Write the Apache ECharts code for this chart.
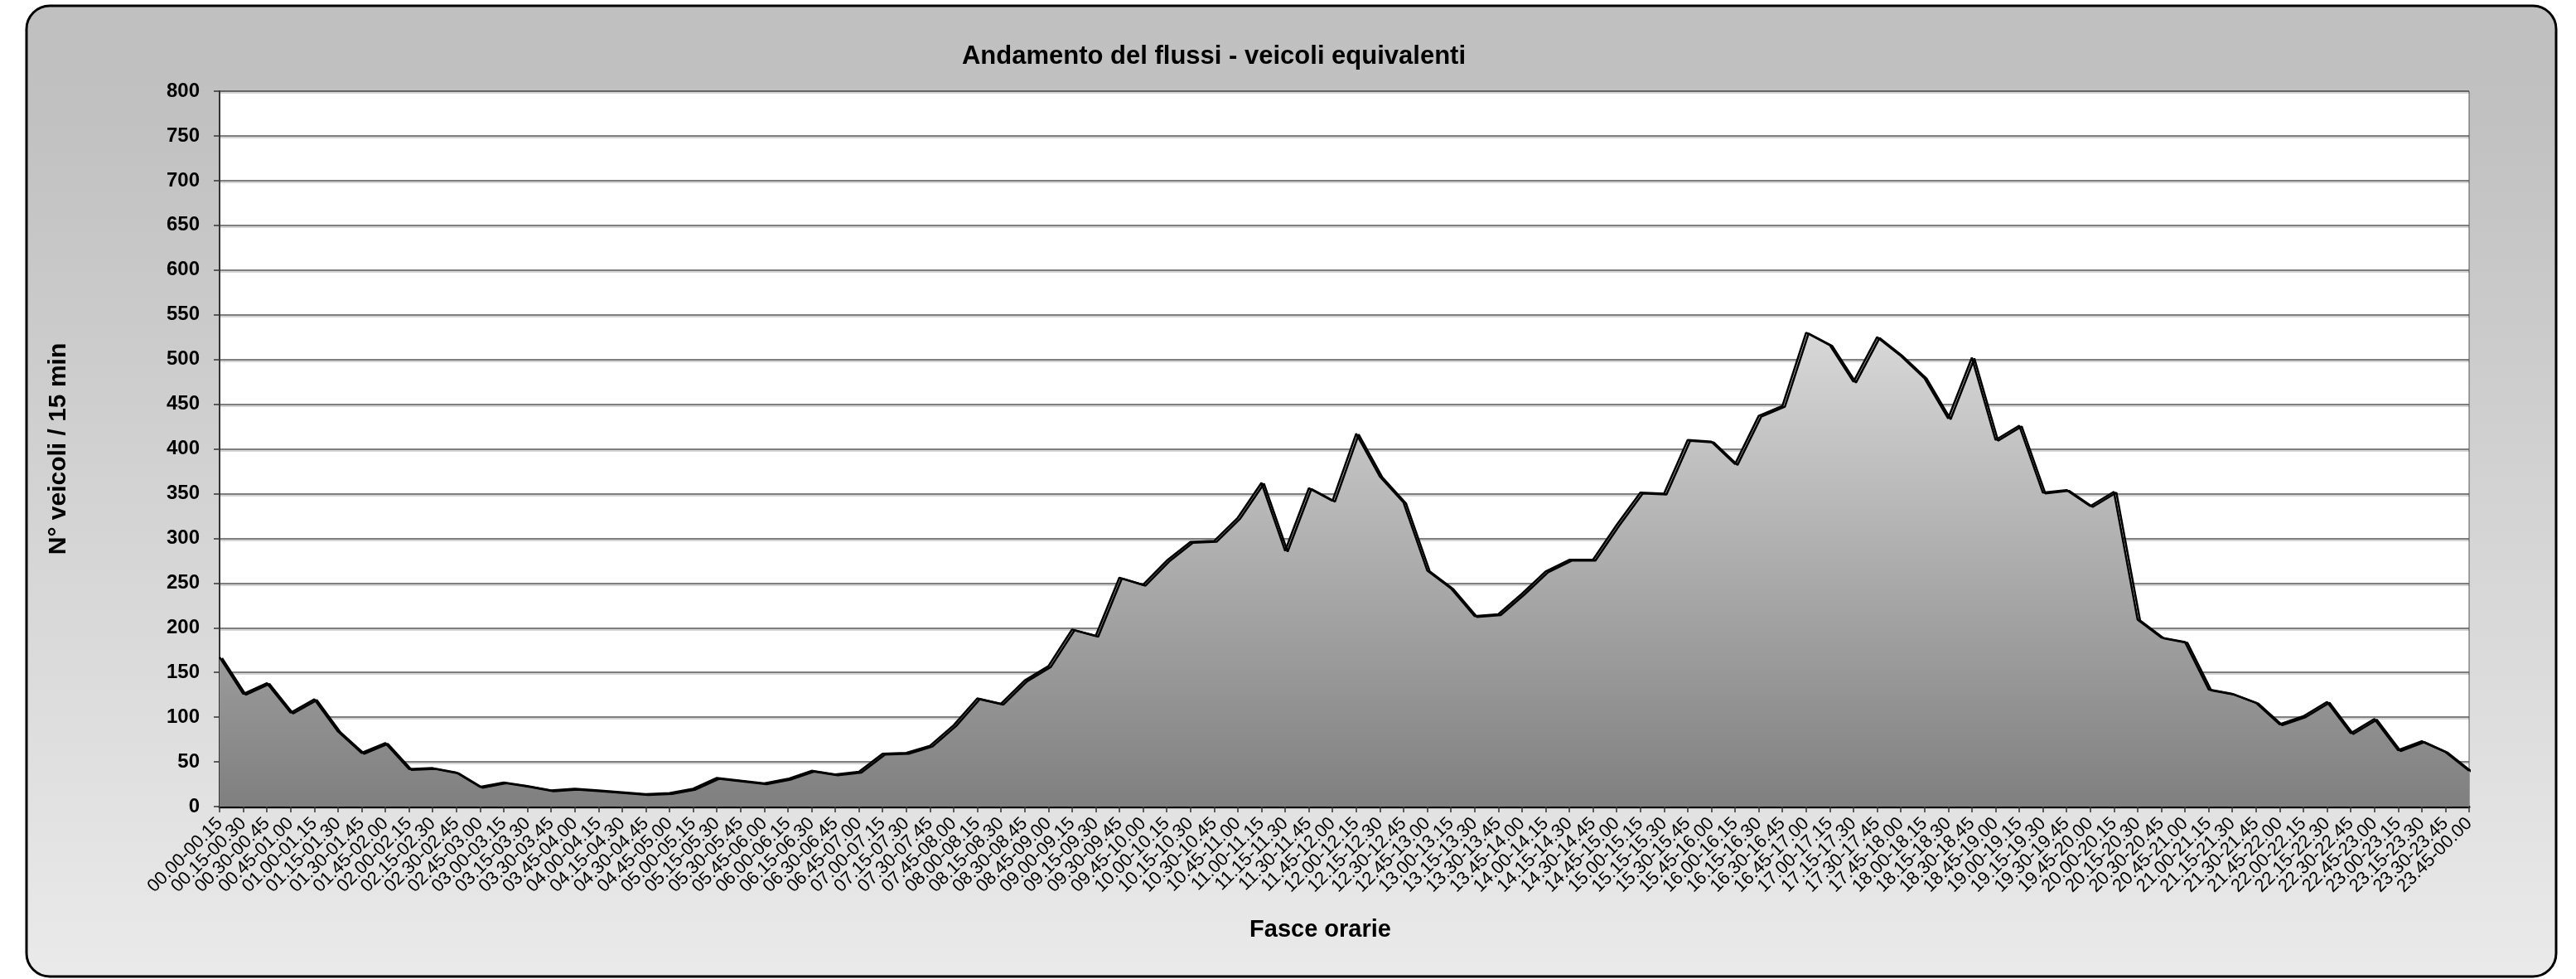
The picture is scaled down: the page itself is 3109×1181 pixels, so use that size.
<!DOCTYPE html>
<html lang="it">
<head>
  <meta charset="UTF-8" />
  <title>Andamento del flussi - veicoli equivalenti</title>
  <script src="https://cdn.jsdelivr.net/npm/echarts@6/dist/echarts.min.js"></script>
  <style>
    html, body {
      margin: 0;
      padding: 0;
      background: #fff;
    }
    #chart {
      width: 3109px;
      height: 1181px;
    }
  </style>
</head>
<body>
  <div id="chart"></div>

  <script>
    // fasce orarie da 15 minuti
    const fasce = [
      '00.00-00.15', '00.15-00.30', '00.30-00.45', '00.45-01.00',
      '01.00-01.15', '01.15-01.30', '01.30-01.45', '01.45-02.00',
      '02.00-02.15', '02.15-02.30', '02.30-02.45', '02.45-03.00',
      '03.00-03.15', '03.15-03.30', '03.30-03.45', '03.45-04.00',
      '04.00-04.15', '04.15-04.30', '04.30-04.45', '04.45-05.00',
      '05.00-05.15', '05.15-05.30', '05.30-05.45', '05.45-06.00',
      '06.00-06.15', '06.15-06.30', '06.30-06.45', '06.45-07.00',
      '07.00-07.15', '07.15-07.30', '07.30-07.45', '07.45-08.00',
      '08.00-08.15', '08.15-08.30', '08.30-08.45', '08.45-09.00',
      '09.00-09.15', '09.15-09.30', '09.30-09.45', '09.45-10.00',
      '10.00-10.15', '10.15-10.30', '10.30-10.45', '10.45-11.00',
      '11.00-11.15', '11.15-11.30', '11.30-11.45', '11.45-12.00',
      '12.00-12.15', '12.15-12.30', '12.30-12.45', '12.45-13.00',
      '13.00-13.15', '13.15-13.30', '13.30-13.45', '13.45-14.00',
      '14.00-14.15', '14.15-14.30', '14.30-14.45', '14.45-15.00',
      '15.00-15.15', '15.15-15.30', '15.30-15.45', '15.45-16.00',
      '16.00-16.15', '16.15-16.30', '16.30-16.45', '16.45-17.00',
      '17.00-17.15', '17.15-17.30', '17.30-17.45', '17.45-18.00',
      '18.00-18.15', '18.15-18.30', '18.30-18.45', '18.45-19.00',
      '19.00-19.15', '19.15-19.30', '19.30-19.45', '19.45-20.00',
      '20.00-20.15', '20.15-20.30', '20.30-20.45', '20.45-21.00',
      '21.00-21.15', '21.15-21.30', '21.30-21.45', '21.45-22.00',
      '22.00-22.15', '22.15-22.30', '22.30-22.45', '22.45-23.00',
      '23.00-23.15', '23.15-23.30', '23.30-23.45', '23.45-00.00'
    ];

    // veicoli equivalenti ogni 15 min
    const veicoli = [
      167, 126, 138, 105, 120, 84, 60, 71,
      42, 43, 38, 22, 27, 23, 18, 20,
      18, 16, 14, 15, 20, 32, 29, 26,
      31, 40, 36, 39, 59, 60, 68, 91,
      121, 115, 141, 157, 198, 191, 256, 248,
      275, 296, 297, 323, 362, 286, 356, 342,
      417, 369, 340, 264, 244, 213, 215, 238,
      263, 276, 276, 315, 351, 350, 410, 408,
      383, 437, 448, 530, 516, 475, 525, 504,
      479, 434, 502, 410, 426, 351, 354, 336,
      352, 209, 189, 184, 131, 126, 116, 92,
      101, 117, 82, 98, 63, 73, 61, 40
    ];

    const yMin = 0;
    const yMax = 800;
    const yStep = 50;

    const font = '"Liberation Sans", Arial, sans-serif';

    const chart = echarts.init(document.getElementById('chart'));
    chart.setOption({
      backgroundColor: '#fff',
      animation: false,
      // cornice arrotondata con sfondo sfumato
      graphic: [{
        type: 'rect',
        z: -100,
        silent: true,
        shape: { x: 32, y: 7, width: 3053, height: 1171, r: 28 },
        style: {
          fill: {
            type: 'linear', x: 0, y: 0, x2: 0, y2: 1,
            colorStops: [
              { offset: 0, color: '#c0c0c0' },
              { offset: 0.12, color: '#c1c1c1' },
              { offset: 1, color: '#eaeaea' }
            ]
          },
          stroke: '#000',
          lineWidth: 3
        }
      }],
      title: {
        text: 'Andamento del flussi - veicoli equivalenti',
        left: 1460,
        top: 48,
        textAlign: 'center',
        textStyle: {
          fontFamily: font,
          fontSize: 31,
          fontWeight: 'bold',
          color: '#000'
        }
      },
      grid: {
        left: 265,
        right: 129,
        top: 110,
        bottom: 208,
        show: true,
        backgroundColor: '#fff',
        borderColor: '#555',
        borderWidth: 1
      },
      xAxis: {
        type: 'category',
        data: fasce,
        boundaryGap: false,
        name: 'Fasce orarie',
        nameLocation: 'middle',
        nameGap: 134,
        nameTextStyle: {
          fontFamily: font,
          fontSize: 29,
          fontWeight: 'bold',
          color: '#000',
          padding: [0, 58, 0, 0]
        },
        axisLine: { lineStyle: { color: '#000', width: 3 } },
        axisTick: {
          interval: 0,
          length: 7,
          lineStyle: { color: '#333', width: 1.5 }
        },
        axisLabel: {
          interval: 0,
          rotate: 45,
          margin: 17,
          fontFamily: font,
          fontSize: 22,
          color: '#000'
        },
        splitLine: { show: false }
      },
      yAxis: {
        type: 'value',
        min: yMin,
        max: yMax,
        interval: yStep,
        name: 'N° veicoli / 15 min',
        nameLocation: 'middle',
        nameGap: 179,
        nameTextStyle: {
          fontFamily: font,
          fontSize: 30,
          fontWeight: 'bold',
          color: '#000'
        },
        axisLine: { show: true, lineStyle: { color: '#333', width: 2 } },
        axisTick: { show: true, length: 7, lineStyle: { color: '#333', width: 1.5 } },
        axisLabel: {
          margin: 24,
          fontFamily: font,
          fontSize: 24,
          fontWeight: 'bold',
          color: '#000'
        },
        splitLine: {
          lineStyle: {
            color: '#555',
            width: 1.5,
            shadowColor: 'rgba(0,0,0,0.22)',
            shadowOffsetY: 2
          }
        }
      },
      series: [{
        name: 'Veicoli equivalenti',
        type: 'line',
        data: veicoli,
        showSymbol: false,
        lineStyle: {
          color: '#000',
          width: 2.5,
          shadowColor: '#000',
          shadowOffsetX: 3,
          shadowOffsetY: 1,
          shadowBlur: 0
        },
        areaStyle: {
          opacity: 1,
          color: {
            type: 'linear', x: 0, y: 0, x2: 0, y2: 1,
            colorStops: [
              { offset: 0, color: '#d8d8d8' },
              { offset: 1, color: '#7f7f7f' }
            ]
          }
        }
      }]
    });

    window.addEventListener('resize', () => chart.resize());
  </script>
</body>
</html>
